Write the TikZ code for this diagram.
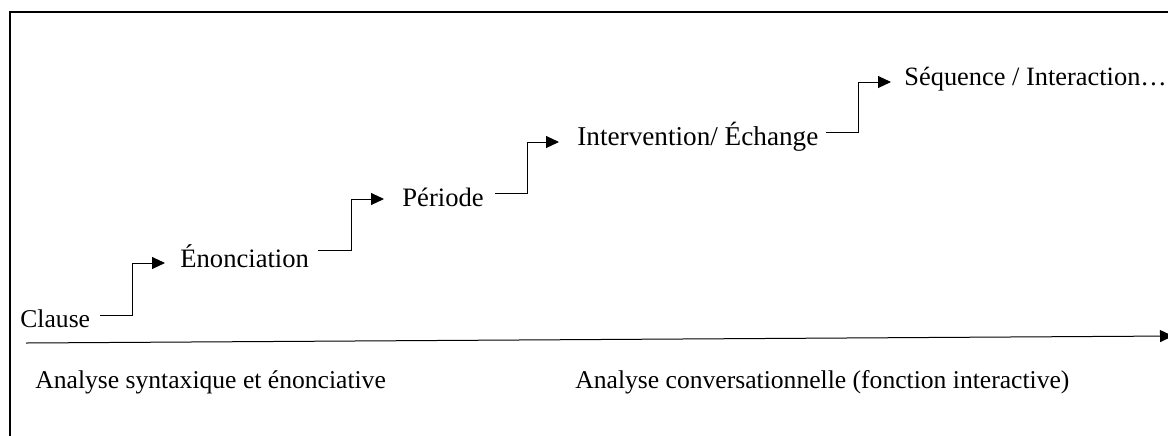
\documentclass[tikz,border=0pt]{standalone}
\usepackage{fontspec}
\setmainfont{Liberation Serif}
\usetikzlibrary{arrows.meta,calc}
\tikzset{
  lbl/.style={inner sep=0pt, anchor=base west, font=\fontsize{13.3}{16}\selectfont},
  lblsm/.style={inner sep=0pt, anchor=base west, font=\fontsize{12.8}{15}\selectfont},
  conn/.style={line width=0.5pt, -{Triangle[length=6.5pt,width=6pt]}},
  frame/.style={line width=0.8pt},
}
\begin{document}
\begin{tikzpicture}[x=0.5pt,y=-0.5pt]
\useasboundingbox (0,0) rectangle (1168,435);
% frame (left and top sides visible)
\draw[frame] (10,440) -- (10,12) -- (1175,12);
% labels
\node[lblsm] (clause) at (20,327) {Clause};
\node[lbl] (enon) at (180,267) {Énonciation};
\node[lbl] (periode) at (402,206) {Période};
\node[lbl, font=\fontsize{13.6}{16}\selectfont] (interv) at (577,145) {Intervention/ Échange};
\node[lbl, font=\fontsize{13.2}{16}\selectfont] (seq) at (904,85) {Séquence / Interaction…};
\node[lblsm] (synt) at (35,388) {Analyse syntaxique et énonciative};
\node[lblsm] (conv) at (575,388) {Analyse conversationnelle (fonction interactive)};
% step connectors
\coordinate (a1) at ($(clause.base east)+(10,-12)$);
\coordinate (b1) at ($(enon.base west)+(-15,-4)$);
\draw[conn] (a1) -| ($(a1)!0.5!(b1)$) |- (b1);
\coordinate (a2) at ($(enon.base east)+(9,-17)$);
\coordinate (b2) at ($(periode.base west)+(-18,-7)$);
\draw[conn] (a2) -| ($(a2)!0.5!(b2)$) |- (b2);
\coordinate (a3) at ($(periode.base east)+(11,-13)$);
\coordinate (b3) at ($(interv.base west)+(-18,-3)$);
\draw[conn] (a3) -| ($(a3)!0.5!(b3)$) |- (b3);
\coordinate (a4) at ($(interv.base east)+(7,-13)$);
\coordinate (b4) at ($(seq.base west)+(-13,-3)$);
\draw[conn] (a4) -| ($(a4)!0.5!(b4)$) |- (b4);
% axis
\coordinate (ax0) at (26,343);
\coordinate (ax1) at (1173,336);
\draw[conn] (ax0) -- (ax1);
\end{tikzpicture}
\end{document}
